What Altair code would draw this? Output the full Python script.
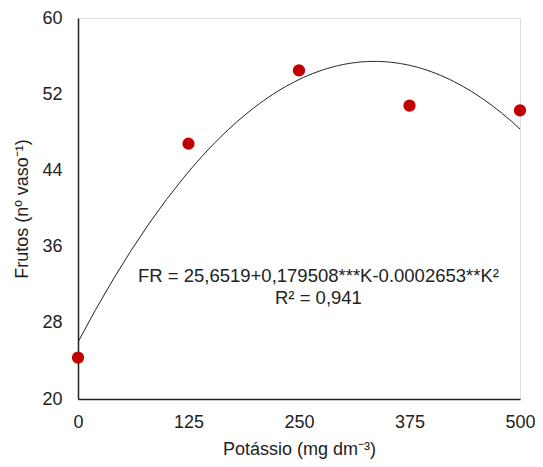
import altair as alt
import pandas as pd

potassio = [0, 125, 250, 375, 500]
frutos = [24.35, 46.8, 54.5, 50.8, 50.3]

x_ticks = [0, 125, 250, 375, 500]
y_ticks = [20, 28, 36, 44, 52, 60]

eq_lines = ["FR = 25,6519+0,179508***K-0.0002653**K²", "R² = 0,941"]
eq_x = [272, 272]
eq_y = [32.9, 30.6]

df = pd.DataFrame({"K": potassio, "FR": frutos})
txt = pd.DataFrame({"K": eq_x, "FR": eq_y, "label": eq_lines})

FONT = "Liberation Sans"
FS = 18

xscale = alt.Scale(domain=[0, 500], nice=False, zero=False)
yscale = alt.Scale(domain=[20, 60], nice=False, zero=False)

xaxis = alt.Axis(values=x_ticks, title="Potássio (mg dm⁻³)", ticks=False, grid=False,
                 labelPadding=14, titlePadding=9, labelFontSize=FS, titleFontSize=FS,
                 labelFont=FONT, titleFont=FONT, labelColor="#222", titleColor="#222",
                 titleFontWeight="normal", domainColor="#222", domainWidth=1.5,
                 labelFlush=False)
yaxis = alt.Axis(values=y_ticks, title="Frutos (nº vaso⁻¹)", ticks=False, grid=False,
                 labelPadding=16, titlePadding=10, labelFontSize=FS, titleFontSize=FS,
                 labelFont=FONT, titleFont=FONT, labelColor="#222", titleColor="#222",
                 titleFontWeight="normal", domainColor="#222", domainWidth=1.5,
                 labelFlush=False)

base = alt.Chart(df)

curve = base.transform_regression("K", "FR", method="poly", order=2, extent=[0, 500]).mark_line(
    color="#222", strokeWidth=1, clip=True
).encode(
    x=alt.X("K:Q", scale=xscale, axis=xaxis),
    y=alt.Y("FR:Q", scale=yscale, axis=yaxis),
)

points = base.mark_circle(size=150, color="#C00000", opacity=1).encode(
    x=alt.X("K:Q", scale=xscale),
    y=alt.Y("FR:Q", scale=yscale),
)

text = alt.Chart(txt).mark_text(font=FONT, fontSize=18.5, color="#222", align="center", baseline="middle").encode(
    x=alt.X("K:Q", scale=xscale),
    y=alt.Y("FR:Q", scale=yscale),
    text="label:N",
)

chart = alt.layer(curve, points, text).properties(
    width=442, height=381,
    autosize=alt.AutoSizeParams(type="none"),
    padding={"left": 70, "top": 10, "right": 15, "bottom": 60},
).configure_view(stroke=None).configure(background="white")

chart.save("out.html", embed_options={"renderer": "svg", "actions": False})
